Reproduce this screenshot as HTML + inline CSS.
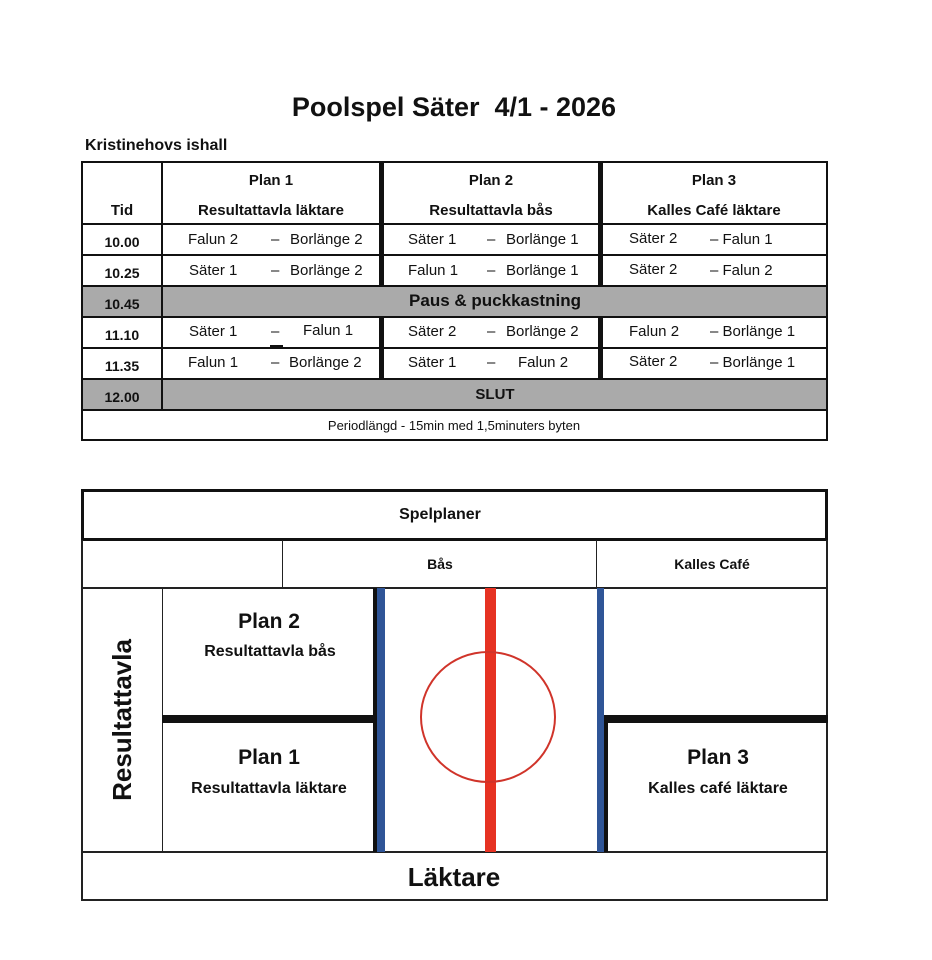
<!DOCTYPE html>
<html><head><meta charset="utf-8"><style>
*{margin:0;padding:0;box-sizing:border-box}
body{width:932px;height:960px;background:#fff;position:relative;font-family:"Liberation Sans",sans-serif;color:#111;overflow:hidden}
.a{position:absolute}
.t{position:absolute;white-space:nowrap;font-size:15px;line-height:18px}
.b{font-weight:bold}
.c{transform:translateX(-50%)}
.hl{position:absolute;background:#111}
</style></head><body>
<div class="t b c" style="left:454px;top:90px;font-size:27px;line-height:34px">Poolspel Säter&nbsp; 4/1 - 2026</div>
<div class="t b" style="left:85px;top:137px;font-size:16px">Kristinehovs ishall</div>

<!-- table -->
<div class="a" style="left:81px;top:161px;width:747px;height:280px;border:2px solid #111"></div>
<div class="a" style="left:83px;top:287px;width:743px;height:30px;background:#aaa"></div>
<div class="a" style="left:83px;top:380px;width:743px;height:30px;background:#aaa"></div>
<!-- horizontal lines -->
<div class="hl" style="left:81px;top:223px;width:747px;height:2px"></div>
<div class="hl" style="left:81px;top:254px;width:747px;height:2px"></div>
<div class="hl" style="left:81px;top:285px;width:747px;height:2px"></div>
<div class="hl" style="left:81px;top:316px;width:747px;height:2px"></div>
<div class="hl" style="left:81px;top:347px;width:747px;height:2px"></div>
<div class="hl" style="left:81px;top:378px;width:747px;height:2px"></div>
<div class="hl" style="left:81px;top:409px;width:747px;height:2px"></div>
<!-- vertical lines -->
<div class="hl" style="left:161px;top:161px;width:2px;height:249px"></div>
<div class="hl" style="left:379px;top:161px;width:5px;height:125px"></div>
<div class="hl" style="left:379px;top:317px;width:5px;height:62px"></div>
<div class="hl" style="left:598px;top:161px;width:5px;height:125px"></div>
<div class="hl" style="left:598px;top:317px;width:5px;height:62px"></div>

<div class="t b c" style="left:122px;top:202px">Tid</div>
<div class="t b c" style="left:271px;top:172px">Plan 1</div>
<div class="t b c" style="left:271px;top:202px">Resultattavla läktare</div>
<div class="t b c" style="left:491px;top:172px">Plan 2</div>
<div class="t b c" style="left:491px;top:202px">Resultattavla bås</div>
<div class="t b c" style="left:714px;top:172px">Plan 3</div>
<div class="t b c" style="left:714px;top:202px">Kalles Café läktare</div>

<div class="t b c" style="left:122px;top:233px;font-size:14px">10.00</div>
<div class="t b c" style="left:122px;top:264px;font-size:14px">10.25</div>
<div class="t b c" style="left:122px;top:295px;font-size:14px">10.45</div>
<div class="t b c" style="left:122px;top:326px;font-size:14px">11.10</div>
<div class="t b c" style="left:122px;top:357px;font-size:14px">11.35</div>
<div class="t b c" style="left:122px;top:388px;font-size:14px">12.00</div>

<div class="t b c" style="left:495px;top:292px;font-size:17px">Paus &amp; puckkastning</div>
<div class="t b c" style="left:495px;top:386px">SLUT</div>
<div class="t c" style="left:454px;top:417px;font-size:13px">Periodlängd - 15min med 1,5minuters byten</div>

<!-- row 1 -->
<div class="t" style="left:188px;top:231px">Falun 2</div><div class="t" style="left:271px;top:231px">–</div><div class="t" style="left:290px;top:231px">Borlänge 2</div>
<div class="t" style="left:408px;top:231px">Säter 1</div><div class="t" style="left:487px;top:231px">–</div><div class="t" style="left:506px;top:231px">Borlänge 1</div>
<div class="t" style="left:629px;top:230px">Säter 2</div><div class="t" style="left:710px;top:231px">– Falun 1</div>
<!-- row 2 -->
<div class="t" style="left:189px;top:262px">Säter 1</div><div class="t" style="left:271px;top:262px">–</div><div class="t" style="left:290px;top:262px">Borlänge 2</div>
<div class="t" style="left:408px;top:262px">Falun 1</div><div class="t" style="left:487px;top:262px">–</div><div class="t" style="left:506px;top:262px">Borlänge 1</div>
<div class="t" style="left:629px;top:261px">Säter 2</div><div class="t" style="left:710px;top:262px">– Falun 2</div>
<!-- row 4 -->
<div class="t" style="left:189px;top:323px">Säter 1</div><div class="t" style="left:271px;top:323px">–</div><div class="hl" style="left:270px;top:345px;width:13px;height:3px"></div><div class="t" style="left:303px;top:322px">Falun 1</div>
<div class="t" style="left:408px;top:323px">Säter 2</div><div class="t" style="left:487px;top:323px">–</div><div class="t" style="left:506px;top:323px">Borlänge 2</div>
<div class="t" style="left:629px;top:323px">Falun 2</div><div class="t" style="left:710px;top:323px">– Borlänge 1</div>
<!-- row 5 -->
<div class="t" style="left:188px;top:354px">Falun 1</div><div class="t" style="left:271px;top:354px">–</div><div class="t" style="left:289px;top:354px">Borlänge 2</div>
<div class="t" style="left:408px;top:354px">Säter 1</div><div class="t" style="left:487px;top:354px">–</div><div class="t" style="left:518px;top:354px">Falun 2</div>
<div class="t" style="left:629px;top:353px">Säter 2</div><div class="t" style="left:710px;top:354px">– Borlänge 1</div>

<!-- diagram -->
<div class="a" style="left:81px;top:489px;width:747px;height:52px;border:3px solid #111"></div>
<div class="t b c" style="left:440px;top:506px;font-size:16px">Spelplaner</div>
<div class="a" style="left:81px;top:540px;width:747px;height:361px;border:2px solid #222;border-top:none"></div>
<div class="a" style="left:282px;top:540px;width:1px;height:48px;background:#222"></div>
<div class="a" style="left:596px;top:540px;width:1px;height:48px;background:#222"></div>
<div class="a" style="left:81px;top:587px;width:747px;height:2px;background:#222"></div>
<div class="t b c" style="left:440px;top:555px;font-size:14px">Bås</div>
<div class="t b c" style="left:712px;top:555px;font-size:14px">Kalles Café</div>
<div class="a" style="left:162px;top:588px;width:1px;height:264px;background:#222"></div>
<div class="a" style="left:81px;top:851px;width:747px;height:2px;background:#222"></div>
<div class="t b c" style="left:454px;top:862px;font-size:26px;line-height:30px">Läktare</div>
<div class="t b" style="left:122px;top:720px;font-size:26px;line-height:30px;transform:translate(-50%,-50%) rotate(-90deg)">Resultattavla</div>

<div class="a" style="left:373px;top:588px;width:4px;height:264px;background:#111"></div>
<div class="a" style="left:377px;top:588px;width:8px;height:264px;background:#2f5597"></div>
<div class="a" style="left:597px;top:588px;width:7px;height:264px;background:#2f5597"></div>
<div class="a" style="left:604px;top:716px;width:4px;height:136px;background:#111"></div>
<div class="a" style="left:162px;top:715px;width:213px;height:8px;background:#111"></div>
<div class="a" style="left:604px;top:715px;width:224px;height:8px;background:#111"></div>
<div class="a" style="left:485px;top:588px;width:11px;height:264px;background:#e63222"></div>
<div class="a" style="left:420px;top:651px;width:136px;height:132px;border:2px solid #d0342a;border-radius:50%"></div>

<div class="t b c" style="left:269px;top:609px;font-size:21px;line-height:26px">Plan 2</div>
<div class="t b c" style="left:270px;top:643px;font-size:16px">Resultattavla bås</div>
<div class="t b c" style="left:269px;top:745px;font-size:21px;line-height:26px">Plan 1</div>
<div class="t b c" style="left:269px;top:780px;font-size:16px">Resultattavla läktare</div>
<div class="t b c" style="left:718px;top:745px;font-size:21px;line-height:26px">Plan 3</div>
<div class="t b c" style="left:718px;top:780px;font-size:16px">Kalles café läktare</div>
</body></html>
